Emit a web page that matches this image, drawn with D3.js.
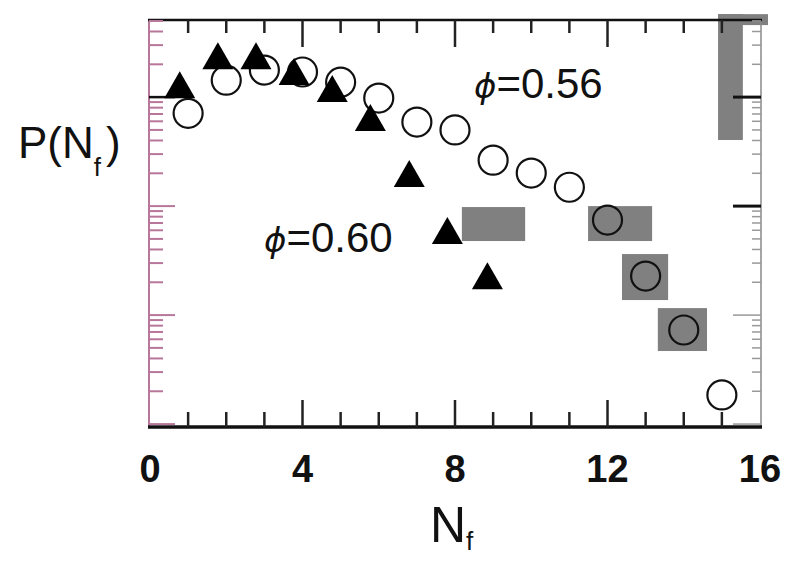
<!DOCTYPE html>
<html>
<head>
<meta charset="utf-8">
<script src="https://cdnjs.cloudflare.com/ajax/libs/d3/7.8.5/d3.min.js"></script>
<style>
body{margin:0;background:#fff;}
text{font-family:"Liberation Sans",Arial,sans-serif;fill:#111;}
</style>
</head>
<body>
<div id="wrap"></div>
<script>
//data: phi = 0.56 (open circles)
var nfCircle = [1,2,3,4,5,6,7,8,9,10,11,12,13,14,15],
    pCircle  = [0.071,0.143,0.177,0.170,0.137,0.098,0.059,0.050,0.0264,0.0201,0.0149,0.00745,0.00228,0.00073,0.000185];
//data: phi = 0.60 (filled triangles)
var nfTri = [0.78,1.78,2.78,3.78,4.78,5.78,6.8,7.8,8.85],
    pTri  = [0.118,0.218,0.218,0.156,0.109,0.059,0.0181,0.00542,0.00209];
//axis
var xTickLabels = [0,4,8,12,16],
    xMinor = d3.range(0,17);
//grey scan blotches [n0, n1, p0, p1]
var blotches = [
  [8.18,9.84,0.0098,0.00478],
  [11.49,13.17,0.0100,0.00478],
  [12.38,13.59,0.00363,0.001374],
  [13.32,14.61,0.001159,0.000468],
  [14.90,15.55,0.577,0.0404],
  [14.90,16.21,0.577,0.458]
];

var width = 785, height = 562,
    pLeft = 149, pRight = 761, pTop = 20, pBottom = 427;

var svg = d3.select('#wrap').append('svg')
    .attr('width',width)
    .attr('height',height);

var x = d3.scaleLinear().domain([0,16]).range([150,760]),
    y = d3.scaleLog().domain([9.4e-5,0.51]).range([pBottom,pTop]);

//blotches sit under everything
svg.append('g').selectAll('rect')
  .data(blotches)
  .enter().append('rect')
    .attr('x',function(d){return x(d[0]);})
    .attr('y',function(d){return y(d[2]);})
    .attr('width',function(d){return x(d[1])-x(d[0]);})
    .attr('height',function(d){return y(d[3])-y(d[2]);})
    .style('fill','#808080');

//frame
var pink = '#b8779a';
svg.append('line').attr('x1',pLeft).attr('x2',pLeft).attr('y1',pTop).attr('y2',pBottom)
  .style('stroke',pink).style('stroke-width',2);
svg.append('line').attr('x1',pRight).attr('x2',pRight).attr('y1',pTop).attr('y2',pBottom)
  .style('stroke','#888').style('stroke-width',1.5);
svg.append('line').attr('x1',pLeft-1).attr('x2',pRight+1).attr('y1',pTop).attr('y2',pTop)
  .style('stroke','#111').style('stroke-width',2.5);
svg.append('line').attr('x1',pLeft-1).attr('x2',pRight+1).attr('y1',pBottom).attr('y2',pBottom)
  .style('stroke','#111').style('stroke-width',3.5);

//x ticks, top and bottom, pointing inward
function isMajorX(d){ return d % 4 === 0; }
svg.append('g').selectAll('line')
  .data(xMinor.filter(function(d){return d>0 && d<16;}))
  .enter().append('line')
    .attr('x1',function(d){return x(d);}).attr('x2',function(d){return x(d);})
    .attr('y1',pTop).attr('y2',function(d){return pTop + (isMajorX(d) ? 27 : 13);})
    .style('stroke','#222').style('stroke-width',2.5);
svg.append('g').selectAll('line')
  .data(xMinor.filter(function(d){return d>0 && d<16;}))
  .enter().append('line')
    .attr('x1',function(d){return x(d);}).attr('x2',function(d){return x(d);})
    .attr('y1',pBottom).attr('y2',function(d){return pBottom - (isMajorX(d) ? 27 : 15);})
    .style('stroke','#222').style('stroke-width',2.5);

//y ticks, log scale
var yTicks = y.ticks();
function isMajorY(d){ var l = Math.log10(d); return Math.abs(l-Math.round(l)) < 1e-6; }
svg.append('g').selectAll('line')
  .data(yTicks)
  .enter().append('line')
    .attr('x1',pLeft).attr('x2',function(d){return pLeft + (isMajorY(d) ? 26 : 14);})
    .attr('y1',function(d){return y(d);}).attr('y2',function(d){return y(d);})
    .style('stroke',function(d){return d === 0.1 ? '#111' : pink;})
    .style('stroke-width',function(d){return d === 0.1 ? 2.5 : 2;});
svg.append('g').selectAll('line')
  .data(yTicks)
  .enter().append('line')
    .attr('x1',pRight).attr('x2',function(d){return pRight - (isMajorY(d) ? 28 : 9);})
    .attr('y1',function(d){return y(d);}).attr('y2',function(d){return y(d);})
    .style('stroke',function(d){return isMajorY(d) && d > 0.005 ? '#111' : '#999';})
    .style('stroke-width',function(d){return isMajorY(d) && d > 0.005 ? 3 : 1.5;});

//x tick labels
svg.append('g').selectAll('text')
  .data(xTickLabels)
  .enter().append('text')
    .attr('x',function(d){return x(d);})
    .attr('y',482)
    .attr('text-anchor','middle')
    .style('font-size','38px')
    .style('font-weight','bold')
    .text(function(d){return d;});

//axis titles
var xt = svg.append('text').attr('x',430).attr('y',542).style('font-size','50px');
xt.append('tspan').text('N');
xt.append('tspan').attr('dy',8).style('font-size','26px').text('f');

var yt = svg.append('text').attr('x',18).attr('y',158).style('font-size','44px');
yt.append('tspan').text('P(N');
yt.append('tspan').attr('dy',18).style('font-size','26px').text('f');
yt.append('tspan').attr('dy',-18).attr('dx',5).text(')');

//circles
svg.append('g').selectAll('circle')
  .data(nfCircle)
  .enter().append('circle')
    .attr('cx',function(d){return x(d);})
    .attr('cy',function(d,i){return y(pCircle[i]);})
    .attr('r',14.5)
    .style('fill','none')
    .style('stroke','#111')
    .style('stroke-width',2.2);

//triangles, centred on centroid
var tw = 31, th = 27;
var triPath = 'M0,' + (-2*th/3) + 'L' + (tw/2) + ',' + (th/3) + 'L' + (-tw/2) + ',' + (th/3) + 'Z';
svg.append('g').selectAll('path')
  .data(nfTri)
  .enter().append('path')
    .attr('d',triPath)
    .attr('transform',function(d,i){return 'translate(' + x(d) + ',' + y(pTri[i]) + ')';})
    .style('fill','#000');

//labels
function phiLabel(px,py,val){
  var t = svg.append('text').attr('x',px).attr('y',py).style('font-size','42px');
  t.append('tspan').style('font-family','"DejaVu Sans",sans-serif').style('font-style','italic')
    .style('font-size','34px').text('\u03d5');
  t.append('tspan').text('=' + val);
}
phiLabel(474,98,'0.56');
phiLabel(264,252,'0.60');
</script>
</body>
</html>
